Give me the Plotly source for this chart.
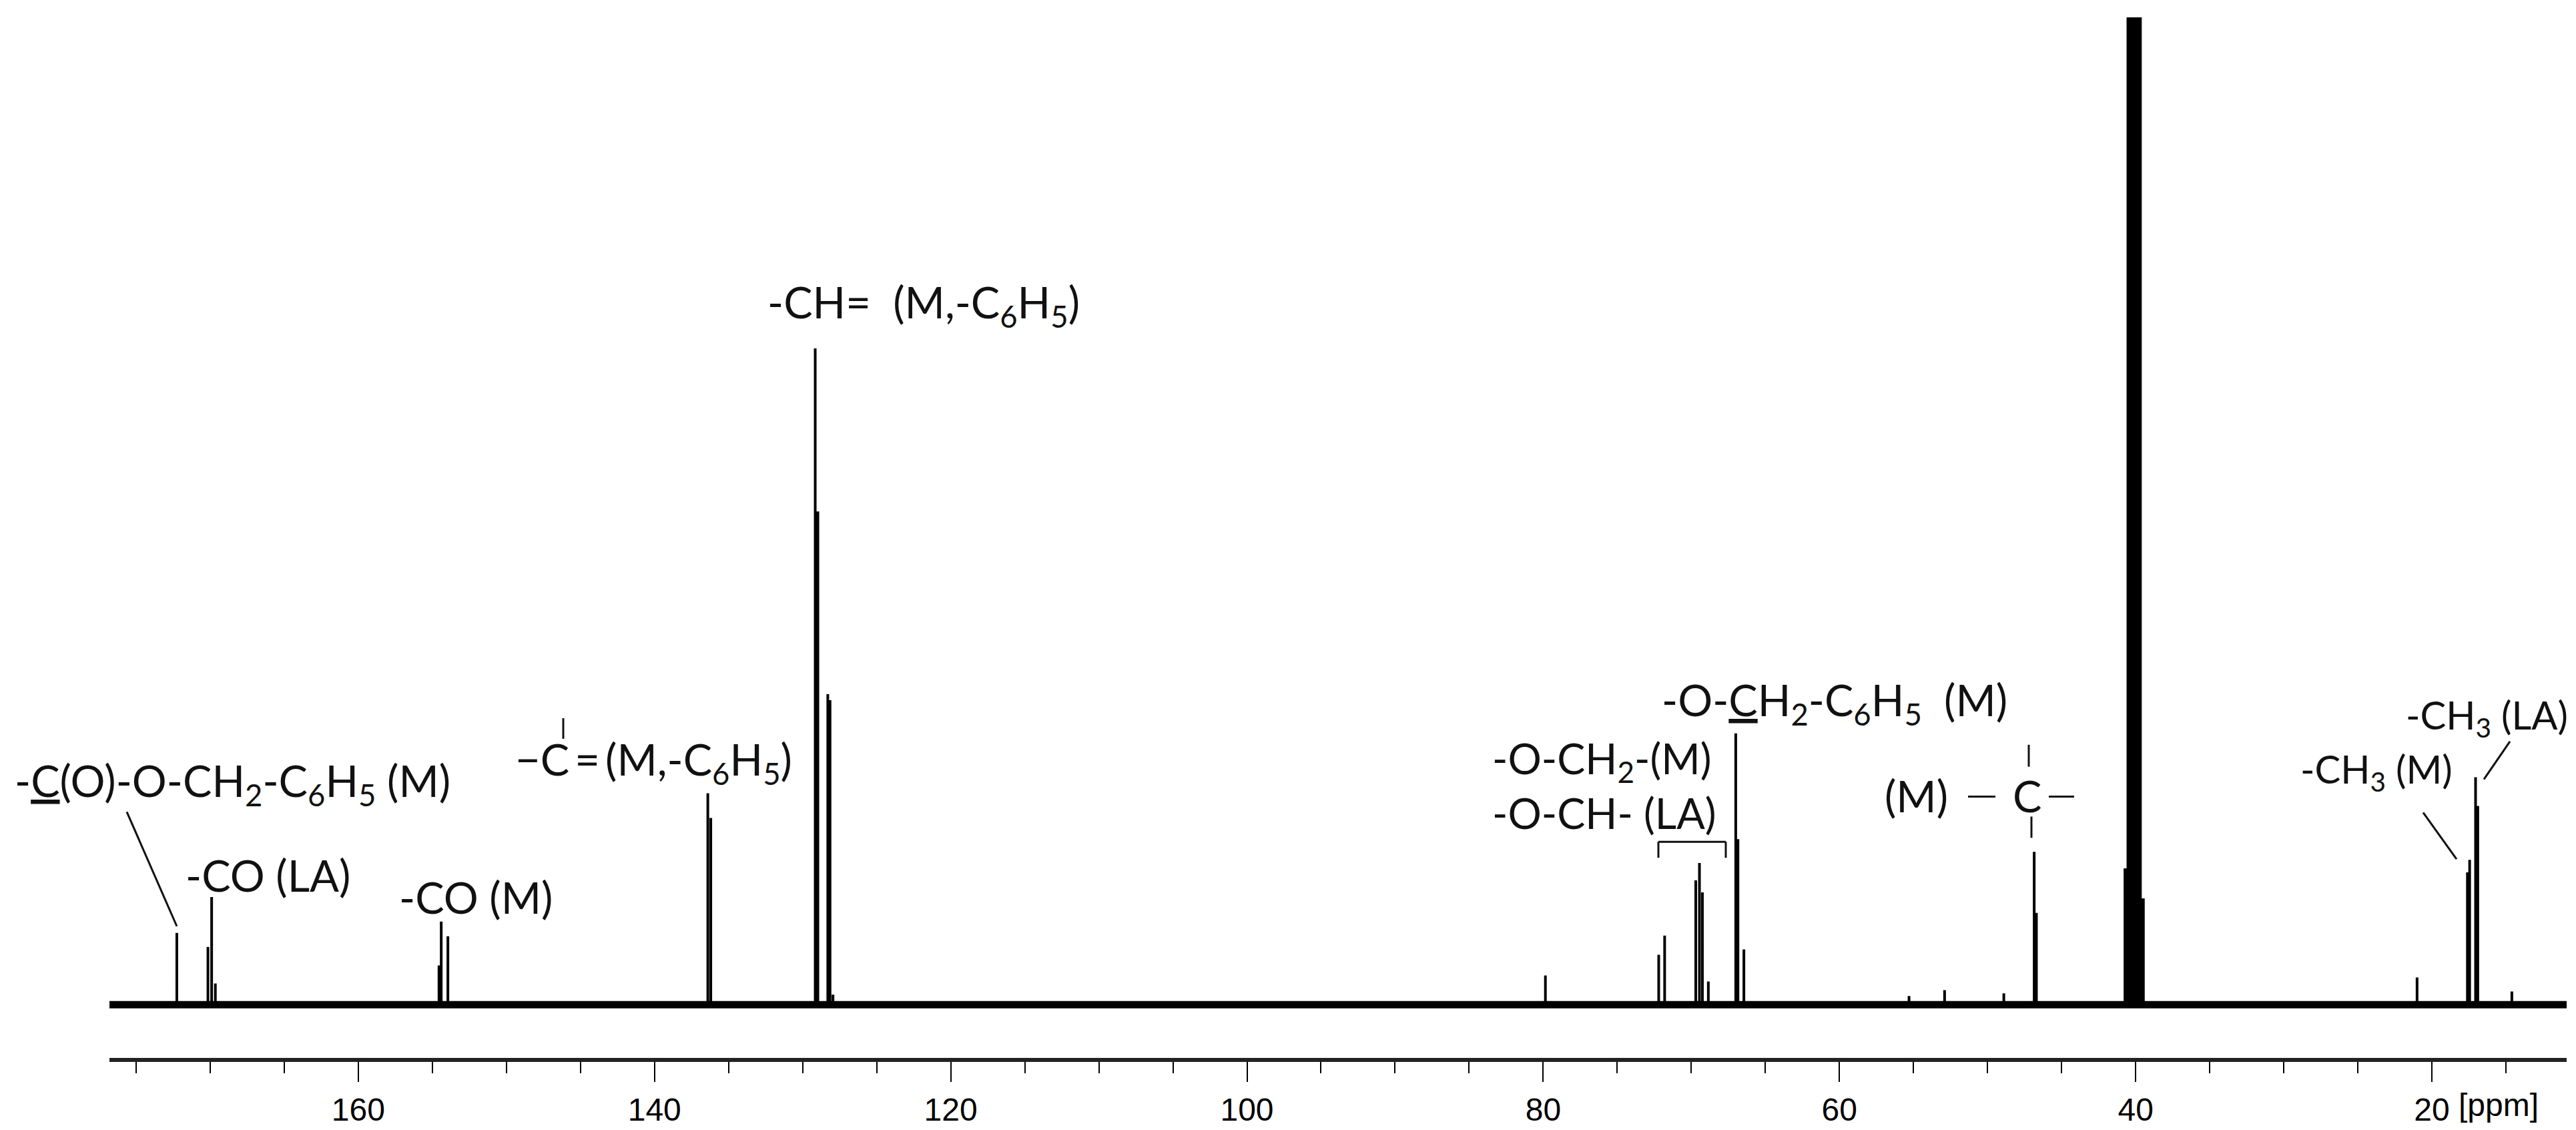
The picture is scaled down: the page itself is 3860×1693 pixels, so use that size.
import plotly.graph_objects as go

# ---------------- data ----------------
spectral_window = [176.8, 10.9]          # ppm, left -> right

peak_ppm = [172.25, 170.15, 169.9, 169.65, 154.55, 154.4, 153.95, 136.4, 136.2,
            129.15, 128.97, 128.3, 128.15, 127.95, 79.85, 72.2, 71.8, 69.7, 69.45,
            69.25, 68.85, 67.0, 66.85, 66.45, 55.3, 52.9, 48.9, 46.85, 46.7, 21.0,
            17.6, 17.45, 17.05, 16.9, 14.6]
peak_int = [10.8, 8.7, 16.2, 3.2, 5.9, 12.5, 10.3, 31.8, 28.1,
            98.7, 74.2, 46.7, 45.8, 1.5, 4.4, 7.5, 10.4, 18.7, 21.3,
            16.9, 3.5, 40.8, 24.9, 8.3, 1.3, 2.2, 1.7, 23.0, 13.8, 4.1,
            19.9, 21.8, 34.2, 29.9, 2.0]

# DMSO-d6 solvent septet (goes off scale)
dmso_ppm = [40.7, 40.5, 40.3, 40.1, 39.9, 39.7, 39.5]
dmso_int = [20.5, 150, 300, 350, 300, 150, 16]

tick_values = [160, 140, 120, 100, 80, 60, 40, 20]
tick_labels = ["160", "140", "120", "100", "80", "60", "40", "20"]

# ---------------- figure geometry ----------------
W, H = 3860, 1693
ML, MR, MT, MB = 156, 22, 18, 110


def P(px, py):
    """reference pixel -> paper coordinates"""
    return (px - ML) / (W - ML - MR), (H - MB - py) / (H - MT - MB)


def sticks(ppm, inten, start=None, end=None):
    xs, ys = [], []
    if start is not None:
        xs.append(start); ys.append(0)
    for p, h in zip(ppm, inten):
        xs += [p, p, p]
        ys += [0, h, 0]
    if end is not None:
        xs.append(end); ys.append(0)
    return xs, ys


fig = go.Figure()

# baseline (noise band)
fig.add_trace(go.Scatter(x=spectral_window, y=[0, 0], mode="lines",
                         line=dict(color="black", width=11), hoverinfo="skip",
                         showlegend=False))
# sample peaks
sx, sy = sticks(peak_ppm, peak_int, spectral_window[0], spectral_window[1])
fig.add_trace(go.Scatter(x=sx, y=sy, mode="lines",
                         line=dict(color="black", width=4), showlegend=False))
# solvent
dx, dy = sticks(dmso_ppm, dmso_int)
fig.add_trace(go.Scatter(x=dx, y=dy, mode="lines",
                         line=dict(color="black", width=5), showlegend=False))

FAM = "Lato, Carlito, Calibri, sans-serif"
LFONT = dict(family=FAM, size=65, color="#111111")
MFONT = dict(family=FAM, size=63, color="#111111")
SFONT = dict(family=FAM, size=58, color="#111111")

labels = [
    ("-<u>C</u>(O)-O-CH<sub>2</sub>-C<sub>6</sub>H<sub>5</sub> (M)", 12, 1170, "left", LFONT),
    ("-CO (LA)", 268, 1308, "left", LFONT),
    ("-CO (M)", 588, 1341, "left", LFONT),
    ("\u2212C\u2009=\u2009(M,-C<sub>6</sub>H<sub>5</sub>)", 762, 1138, "left", LFONT),
    ("-CH=\u00a0\u00a0(M,-C<sub>6</sub>H<sub>5</sub>)", 1140, 451, "left", LFONT),
    ("-O-CH<sub>2</sub>-(M)<br>-O-CH- (LA)", 2226, 1173, "left", MFONT),
    ("-O-<u>C</u>H<sub>2</sub>-C<sub>6</sub>H<sub>5</sub>\u00a0\u00a0(M)", 2480, 1049, "left", LFONT),
    ("(M)", 2814, 1188, "left", LFONT),
    ("C", 3006, 1188, "left", LFONT),
    ("-CH<sub>3</sub> (M)", 3437, 1152, "left", SFONT),
    ("-CH<sub>3</sub> (LA)", 3842, 1071, "right", SFONT),
]
for txt, px, py, anchor, font in labels:
    x, y = P(px, py)
    fig.add_annotation(text=txt, x=x, y=y, xref="paper", yref="paper",
                       xanchor=anchor, yanchor="middle", align="left",
                       showarrow=False, font=font)

# decorative strokes: leader lines, bonds, bracket
segments = [
    ((182, 1213), (257, 1385)),     # leader to 172 ppm
    ((836, 1072), (836, 1103)),     # bond above C=
    ((3032, 1112), (3032, 1145)),   # bond above quaternary C
    ((3036, 1220), (3036, 1252)),   # bond below quaternary C
    ((2941, 1190), (2982, 1190)),   # bond left
    ((3062, 1190), (3100, 1190)),   # bond right
    ((3623, 1214), (3673, 1284)),   # leader CH3 (M)
    ((3714, 1164), (3753, 1107)),   # leader CH3 (LA)
    ((2477, 1282), (2477, 1258)),   # bracket
    ((2477, 1258), (2578, 1258)),
    ((2578, 1258), (2578, 1282)),
]
for (a, b) in segments:
    x0, y0 = P(*a)
    x1, y1 = P(*b)
    fig.add_shape(type="line", x0=x0, y0=y0, x1=x1, y1=y1, xref="paper",
                  yref="paper", line=dict(color="#111111", width=3))

TFONT = dict(family="Liberation Sans, Arial, sans-serif", size=48, color="black")

# "[ppm]" unit next to the 20 tick label
fig.add_annotation(text="[ppm]", x=20, y=0, xref="x", yref="paper",
                   xanchor="left", yanchor="top", xshift=38, yshift=-42,
                   showarrow=False, font=TFONT)

fig.update_xaxes(range=spectral_window, tickmode="array", tickvals=tick_values,
                 ticktext=tick_labels, ticks="outside", ticklen=30, tickwidth=2,
                 tickcolor="black", showline=True, linewidth=6, linecolor="#222222",
                 showgrid=False, zeroline=False, tickfont=TFONT,
                 minor=dict(tickmode="linear", tick0=0, dtick=5, ticks="outside",
                            ticklen=17, tickwidth=2, tickcolor="black",
                            showgrid=False))
fig.update_yaxes(range=[-8.0, 148.5], visible=False, showgrid=False,
                 zeroline=False)

fig.update_layout(width=W, height=H, margin=dict(l=ML, r=MR, t=MT, b=MB),
                  plot_bgcolor="white", paper_bgcolor="white", showlegend=False)

fig.write_html("out.html")
